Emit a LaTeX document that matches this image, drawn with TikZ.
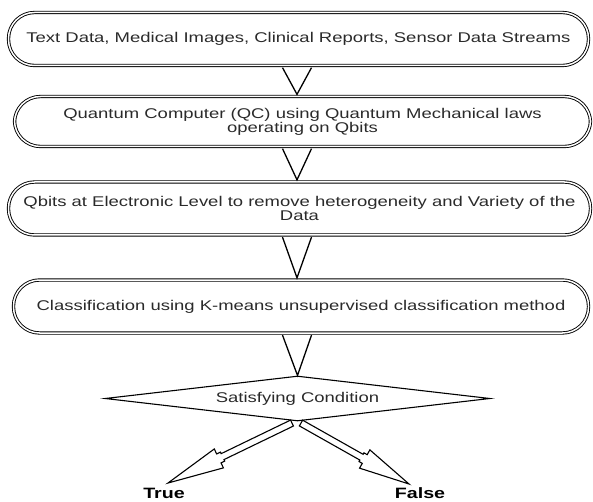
\documentclass[tikz,border=0pt]{standalone}
\usepackage{fontspec}
\setmainfont{Liberation Sans}[FakeStretch=1.31]
\usetikzlibrary{shapes.geometric,calc}
\definecolor{txtgray}{HTML}{2A2A2A}
\newcommand\flowfont{\fontsize{14.1}{14.1}\selectfont}
\newcommand\labelfont{\fontsize{15}{15}\selectfont\bfseries}
\newcommand\fatarrowpath[2]{%
  \draw[fatarrow] ($(#1)!0!(#2)!3.3pt!90:(#2)$)
    -- ($(#1)!0.56!(#2)!3.3pt!90:(#2)$)
    -- ($(#1)!0.56!(#2)!5pt!90:(#2)$)
    -- ($(#1)!0.59!(#2)!5pt!90:(#2)$)
    -- ($(#1)!0.59!(#2)!10.5pt!90:(#2)$)
    -- (#2)
    -- ($(#1)!0.59!(#2)!10.5pt!-90:(#2)$)
    -- ($(#1)!0.59!(#2)!5pt!-90:(#2)$)
    -- ($(#1)!0.56!(#2)!5pt!-90:(#2)$)
    -- ($(#1)!0.56!(#2)!3.3pt!-90:(#2)$)
    -- ($(#1)!0!(#2)!3.3pt!-90:(#2)$)
    -- cycle;}
\tikzset{
  proc/.style={draw=black, double=white, double distance=1.5pt, line width=0.9pt,
    rounded corners=26pt, inner sep=0pt, align=center, text=txtgray, font=\flowfont},
  tri/.style={draw=black, line width=1.3pt, line join=miter, fill=white},
  decision/.style={diamond, draw=black, line width=1.1pt, inner sep=0pt,
    text=txtgray, font=\flowfont},
  fatarrow/.style={draw=black, line width=1.1pt, fill=white, line join=miter},
  outcome/.style={font=\labelfont, text=black, inner sep=0pt}
}
\begin{document}
\begin{tikzpicture}[x=1pt,y=1pt]
\useasboundingbox (0,0) rectangle (593,-502);
\coordinate (ax) at (297,0);
\node[proc, minimum width=580pt, minimum height=53pt] (b1) at (298.5,-39)
  {Text Data, Medical Images, Clinical Reports, Sensor Data Streams};
\node[proc, minimum width=576pt, minimum height=50pt] (b2) at (302.5,-121.5)
  {Quantum Computer (QC) using Quantum Mechanical laws\\operating on Qbits};
\node[proc, minimum width=582pt, minimum height=53pt] (b3) at (299.5,-208.5)
  {Qbits at Electronic Level to remove heterogeneity and Variety of the\\Data};
\node[proc, minimum width=575pt, minimum height=53pt] (b4) at (301,-306.5)
  {Classification using K-means unsupervised classification method};
\node[decision, minimum width=385pt, minimum height=45pt, aspect=8.55] (d) at (297.5,-398.5)
  {Satisfying Condition};
% triangle connectors
\foreach \u/\v in {b1/b2, b2/b3, b3/b4} {
  \draw[tri] ($(\u.south -| ax)+(-14.5,-1.7)$) -- ($(\v.north -| ax)+(0,1.7)$)
    -- ($(\u.south -| ax)+(14.5,-1.7)$);
}
\draw[tri] ($(b4.south -| ax)+(-14.5,-1.7)$) -- (d.north)
  -- ($(b4.south -| ax)+(14.5,-1.7)$);
% outcomes
\node[outcome] (t) at (164,-493) {True};
\node[outcome] (f) at (420,-493) {False};
\coordinate (s1) at ($(d.south)+(-5.5,-1.5)$);
\coordinate (s2) at ($(d.south)+(3.5,-1.5)$);
\coordinate (e1) at (168,-483);
\coordinate (e2) at (409,-484);
\fatarrowpath{s1}{e1}
\fatarrowpath{s2}{e2}
\end{tikzpicture}
\end{document}
